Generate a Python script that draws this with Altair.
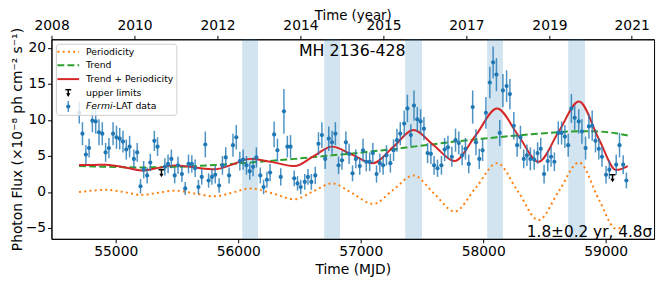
import altair as alt
import pandas as pd

# ---------------- data ----------------
mjd = [54702, 54728, 54756, 54782, 54809, 54836, 54863, 54890, 54917, 54944,
       54978, 55006, 55032, 55059, 55086, 55113, 55148, 55175, 55202, 55228,
       55256, 55282, 55315, 55341, 55401, 55427, 55454, 55481, 55508, 55540,
       55567, 55594, 55621, 55648, 55675, 55702, 55731, 55758, 55785, 55812,
       55844, 55871, 55898, 55925, 55957, 55984, 56013, 56040, 56067, 56094,
       56121, 56148, 56180, 56207, 56234, 56260, 56293, 56320, 56347, 56373,
       56401, 56427, 56457, 56484, 56510, 56543, 56569, 56597, 56629, 56655,
       56683, 56710, 56739, 56766, 56793, 56819, 56847, 56879, 56905, 56933,
       56960, 56992, 57019, 57045, 57073, 57099, 57129, 57156, 57183, 57210,
       57242, 57268, 57296, 57323, 57355, 57381, 57409, 57435, 57462, 57489,
       57516, 57546, 57573, 57599, 57627, 57659, 57685, 57712, 57744, 57774,
       57801, 57828, 57855, 57882, 57914, 57941, 57968, 57995, 58022, 58054,
       58081, 58108, 58135, 58161, 58191, 58218, 58250, 58277, 58304, 58331,
       58357, 58385, 58416, 58444, 58470, 58497, 58527, 58554, 58581, 58613,
       58640, 58667, 58694, 58720, 58747, 58780, 58806, 58836, 58863, 58890,
       58917, 58944, 58970, 59003, 59030, 59086, 59113, 59143, 59169]
flux = [11.0, 8.1, 5.2, 6.1, 9.9, 9.8, 8.3, 8.1, 5.5, 6.1,
        8.1, 7.6, 7.4, 7.0, 5.9, 6.3, 4.6, 5.5, 0.8, 3.1,
        2.3, 4.1, 7.1, 6.3, 3.5, 3.9, 4.6, 2.3, 3.7, 2.5,
        0.5, 3.9, 3.9, 3.3, 0.7, 2.1, 6.6, 1.6, 2.1, 2.4,
        0.9, 3.7, 4.8, 2.3, 6.5, 7.6, 4.3, 4.5, 3.7, 2.9,
        3.5, 4.8, 2.3, 0.7, 1.7, 2.7, 8.0, 5.8, 2.1, 11.2,
        6.3, 6.3, 1.9, 1.2, 0.7, 1.4, 2.1, 1.4, 2.3, 6.7,
        7.9, 4.6, 7.4, 6.9, 8.1, 3.7, 4.4, 6.9, 5.3, 2.6,
        4.6, 3.6, 5.8, 4.2, 4.2, 5.4, 2.5, 4.0, 3.7, 5.1,
        4.0, 5.8, 7.2, 8.1, 9.5, 11.6, 7.9, 12.0, 10.1, 9.8,
        8.8, 5.4, 5.3, 3.7, 3.3, 3.7, 5.9, 6.2, 4.9, 7.2,
        6.8, 5.1, 6.0, 3.9, 11.8, 6.9, 4.6, 5.8, 11.0, 15.2,
        18.0, 16.3, 8.2, 14.1, 14.7, 13.6, 9.2, 6.5, 7.6, 4.6,
        5.1, 4.6, 4.5, 5.4, 6.0, 2.5, 4.3, 4.9, 4.2, 8.2,
        8.2, 7.7, 6.5, 11.6, 10.3, 9.8, 8.4, 6.1, 9.1, 9.2,
        7.1, 6.0, 4.9, 2.4, 3.1, 3.8, 6.5, 3.8, 1.6]
err = [1.5, 1.6, 1.3, 1.3, 1.6, 1.7, 1.8, 1.6, 1.3, 1.4,
       1.6, 1.6, 1.5, 1.5, 1.4, 1.5, 1.3, 1.3, 1.0, 1.2,
       1.1, 1.2, 1.4, 1.3, 1.2, 1.3, 1.3, 1.1, 1.2, 1.1,
       0.9, 1.3, 1.2, 1.2, 1.0, 1.1, 1.8, 1.0, 1.1, 1.2,
       1.0, 1.3, 1.4, 1.1, 1.6, 1.7, 1.3, 1.4, 1.3, 1.2,
       1.3, 1.4, 1.1, 1.0, 1.1, 1.2, 1.8, 1.6, 1.2, 3.1,
       1.5, 1.6, 1.1, 1.0, 1.0, 1.1, 1.1, 1.1, 1.2, 1.6,
       1.8, 1.4, 1.7, 1.6, 1.6, 1.2, 1.3, 1.5, 1.4, 1.1,
       1.3, 1.2, 1.6, 1.3, 1.3, 1.4, 1.2, 1.3, 1.3, 1.4,
       1.3, 1.5, 1.6, 1.6, 1.8, 1.9, 1.5, 2.1, 1.7, 1.7,
       1.6, 1.4, 1.4, 1.3, 1.2, 1.3, 1.6, 1.6, 1.4, 1.6,
       1.6, 1.4, 1.5, 1.3, 2.3, 1.8, 1.4, 1.5, 2.2, 2.2,
       2.2, 2.3, 1.8, 2.3, 2.2, 2.1, 1.9, 1.6, 1.6, 1.3,
       1.5, 1.6, 1.4, 1.5, 1.5, 1.3, 1.4, 1.4, 1.3, 1.6,
       1.6, 1.6, 1.6, 2.0, 1.7, 1.7, 1.7, 1.6, 1.7, 2.1,
       1.6, 1.5, 1.4, 1.2, 1.3, 1.4, 1.7, 1.3, 1.1]

ul_mjd = [55373, 59056]
ul_flux = [3.1, 2.4]
ul_tip = [2.3, 1.6]

curve_mjd = [54700, 54810, 54919, 55065, 55210, 55347, 55484, 55645, 55806, 55950,
             56097, 56280, 56460, 56613, 56766, 56933, 57100, 57265, 57430, 57598,
             57766, 57940, 58113, 58283, 58452, 58617, 58782, 58946, 59085, 59180]
periodicity = [0.0, 0.2, 0.3, 0.0, -0.4, -0.1, 0.2, -0.2, -0.6, -0.1,
               0.5, -0.2, -1.0, 0.1, 1.2, -0.2, -1.65, 0.3, 2.3, -0.2,
               -2.7, 0.6, 4.0, 0.1, -3.9, 0.1, 4.1, -1.1, -5.1, -4.5]
trend = [3.6, 3.55, 3.5, 3.45, 3.4, 3.45, 3.5, 3.6, 3.75, 3.9,
         4.1, 4.35, 4.6, 4.85, 5.1, 5.35, 5.65, 5.95, 6.3, 6.65,
         7.0, 7.3, 7.6, 7.85, 8.1, 8.3, 8.45, 8.4, 8.15, 7.85]
trend_plus_periodicity = [3.75, 3.75, 3.8, 3.45, 3.0, 3.35, 3.7, 3.4, 3.15, 3.8,
                          4.6, 4.15, 3.6, 4.95, 6.3, 5.15, 4.0, 6.25, 8.6, 6.45,
                          4.3, 7.9, 11.6, 7.95, 4.2, 8.4, 12.55, 7.3, 3.05, 3.6]

band_start = [56032, 56702, 57363, 58032, 58694]
band_end = [56161, 56831, 57500, 58161, 58831]

x_ticks = [55000, 56000, 57000, 58000, 59000]
y_ticks = [-5, 0, 5, 10, 15, 20]
top_tick_mjd = [54476, 55153, 55831, 56508, 57186, 57863, 58541, 59212]
top_tick_labels = ["2008", "2010", "2012", "2014", "2015", "2017", "2019", "2021"]

source_name = ["MH 2136-428"]
source_x = [56931]
source_y = [18.9]
period_text = ["1.8±0.2 yr, 4.8σ"]
period_x = [59380]
period_y = [-6.2]

# ---------------- chart ----------------
FONT = "DejaVu Sans"
XD = [54475, 59395]
YD = [-6.5, 21.2]
BLUE = "#1f77b4"
ORANGE = "#ff7f0e"
GREEN = "#2ca02c"
RED = "#d62728"
YTITLE = "Photon Flux  (×10⁻⁸ ph cm⁻² s⁻¹)"


def X(field):
    return alt.X(field, type="quantitative",
                 scale=alt.Scale(domain=XD, nice=False, zero=False),
                 axis=alt.Axis(values=x_ticks, format="d", title="Time (MJD)",
                               orient="bottom", titlePadding=4))


def Y(field):
    return alt.Y(field, type="quantitative",
                 scale=alt.Scale(domain=YD, nice=False, zero=False),
                 axis=alt.Axis(values=y_ticks, title=YTITLE, titlePadding=1))


pts = pd.DataFrame({"mjd": mjd, "flux": flux, "err": err})
pts["lo"] = pts["flux"] - pts["err"]
pts["hi"] = pts["flux"] + pts["err"]
curves = pd.DataFrame({"mjd": curve_mjd, "per": periodicity, "trend": trend,
                       "tp": trend_plus_periodicity})
bands = pd.DataFrame({"start": band_start, "end": band_end})
ul = pd.DataFrame({"mjd": ul_mjd, "flux": ul_flux, "tip": ul_tip})
one = pd.DataFrame({"k": [0]})

band_layer = alt.Chart(bands).mark_rect(color=BLUE, opacity=0.2).encode(
    x=X("start"), x2=alt.X2("end"))

err_layer = alt.Chart(pts).mark_rule(color=BLUE, strokeWidth=1.5, strokeOpacity=0.8).encode(
    x=X("mjd"), y=Y("lo"), y2=alt.Y2("hi"))
pt_layer = alt.Chart(pts).mark_circle(color=BLUE, size=18, opacity=1).encode(
    x=X("mjd"), y=Y("flux"))

per_layer = alt.Chart(curves).mark_line(color=ORANGE, strokeWidth=2, strokeDash=[2, 3.3],
                                        interpolate="monotone").encode(x=X("mjd"), y=Y("per"))
trend_layer = alt.Chart(curves).mark_line(color=GREEN, strokeWidth=2, strokeDash=[7, 3.2],
                                          interpolate="monotone").encode(x=X("mjd"), y=Y("trend"))
tp_layer = alt.Chart(curves).mark_line(color=RED, strokeWidth=2,
                                       interpolate="monotone").encode(x=X("mjd"), y=Y("tp"))

ul_rule = alt.Chart(ul).mark_rule(color="black", strokeWidth=1.5).encode(
    x=X("mjd"), y=Y("flux"), y2=alt.Y2("tip"))
ul_cap = alt.Chart(ul).mark_rule(color="black", strokeWidth=1.5, xOffset=-3, x2Offset=3).encode(
    x=X("mjd"), x2=alt.X2("mjd"), y=Y("flux"))
ul_head = alt.Chart(ul).mark_point(shape="triangle-down", filled=True, size=18,
                                   color="black", opacity=1).encode(x=X("mjd"), y=Y("tip"))

name_df = pd.DataFrame({"x": source_x, "y": source_y, "t": source_name})
name_layer = alt.Chart(name_df).mark_text(font=FONT, fontSize=16, align="center",
                                          baseline="alphabetic", color="black").encode(
    x=X("x"), y=Y("y"), text="t:N")
per_df = pd.DataFrame({"x": period_x, "y": period_y, "t": period_text})
per_text = alt.Chart(per_df).mark_text(font=FONT, fontSize=15.5, align="right",
                                       baseline="alphabetic", color="black").encode(
    x=X("x"), y=Y("y"), text="t:N")

# ----- legend (drawn by hand, in pixel space) -----
LFS = 9.4
leg = []
leg.append(alt.Chart(one).mark_rect(fill="white", fillOpacity=0.8, stroke="#cccccc",
                                    strokeWidth=1, cornerRadius=3).encode(
    x=alt.value(5), x2=alt.value(127), y=alt.value(5), y2=alt.value(77)))
leg.append(alt.Chart(one).mark_rule(color=ORANGE, strokeWidth=2, strokeDash=[2, 3.3]).encode(
    x=alt.value(6), x2=alt.value(28), y=alt.value(12.7)))
leg.append(alt.Chart(one).mark_rule(color=GREEN, strokeWidth=2, strokeDash=[7, 3.2]).encode(
    x=alt.value(6), x2=alt.value(28), y=alt.value(26.3)))
leg.append(alt.Chart(one).mark_rule(color=RED, strokeWidth=2).encode(
    x=alt.value(6), x2=alt.value(28), y=alt.value(40.3)))
leg.append(alt.Chart(one).mark_rule(color="black", strokeWidth=1.5).encode(
    x=alt.value(17), y=alt.value(51), y2=alt.value(57)))
leg.append(alt.Chart(one).mark_rule(color="black", strokeWidth=1.5).encode(
    x=alt.value(14), x2=alt.value(20), y=alt.value(51)))
leg.append(alt.Chart(one).mark_point(shape="triangle-down", filled=True, size=18,
                                     color="black", opacity=1).encode(
    x=alt.value(17), y=alt.value(56.5)))
leg.append(alt.Chart(one).mark_rule(color=BLUE, strokeWidth=1.5, strokeOpacity=0.8).encode(
    x=alt.value(17), y=alt.value(62.5), y2=alt.value(73.5)))
leg.append(alt.Chart(one).mark_circle(color=BLUE, size=18, opacity=1).encode(
    x=alt.value(17), y=alt.value(68)))
for txt, yy in [("Periodicity", 12.7), ("Trend", 26.3), ("Trend + Periodicity", 40.3),
                ("upper limits", 54.3)]:
    leg.append(alt.Chart(one).mark_text(font=FONT, fontSize=LFS, align="left",
                                        baseline="middle", color="black").encode(
        x=alt.value(35), y=alt.value(yy), text=alt.value(txt)))
leg.append(alt.Chart(one).mark_text(font=FONT, fontSize=LFS, fontStyle="italic", align="left",
                                    baseline="middle", color="black").encode(
    x=alt.value(35), y=alt.value(68), text=alt.value("Fermi")))
leg.append(alt.Chart(one).mark_text(font=FONT, fontSize=LFS, align="left",
                                    baseline="middle", color="black").encode(
    x=alt.value(35 + 2.853 * LFS), y=alt.value(68), text=alt.value("-LAT data")))

main = alt.layer(band_layer, per_layer, trend_layer, tp_layer, err_layer, pt_layer,
                 ul_rule, ul_cap, ul_head, name_layer, per_text, *leg)

label_expr = ("[" + ",".join("'%s'" % s for s in top_tick_labels) + "][indexof(["
              + ",".join(str(v) for v in top_tick_mjd) + "], datum.value)]")
top = alt.Chart(pd.DataFrame({"mjd": top_tick_mjd})).mark_point(opacity=0).encode(
    x=alt.X("mjd:Q", scale=alt.Scale(domain=XD, nice=False, zero=False),
            axis=alt.Axis(orient="top", values=top_tick_mjd, labelExpr=label_expr,
                          title="Time (year)", titleBaseline="alphabetic", titleY=-20,
                          titleFontSize=13.5,
                          labelPadding=3, labelFlush=False, labelOverlap=False)))

chart = alt.layer(main, top).resolve_scale(x="independent").properties(
    width=610, height=202,
    autosize=alt.AutoSizeParams(type="none"),
    padding={"left": 44, "top": 30, "right": 5, "bottom": 42},
).configure_axis(
    labelFont=FONT, titleFont=FONT, labelFontSize=14, titleFontSize=14,
    labelColor="black", titleColor="black", tickColor="black", domainColor="black",
    tickSize=4, grid=False, titleFontWeight="normal", labelPadding=2,
).configure_view(stroke="black", strokeWidth=1)

chart.save("out.html", embed_options={"renderer": "svg", "actions": False})
